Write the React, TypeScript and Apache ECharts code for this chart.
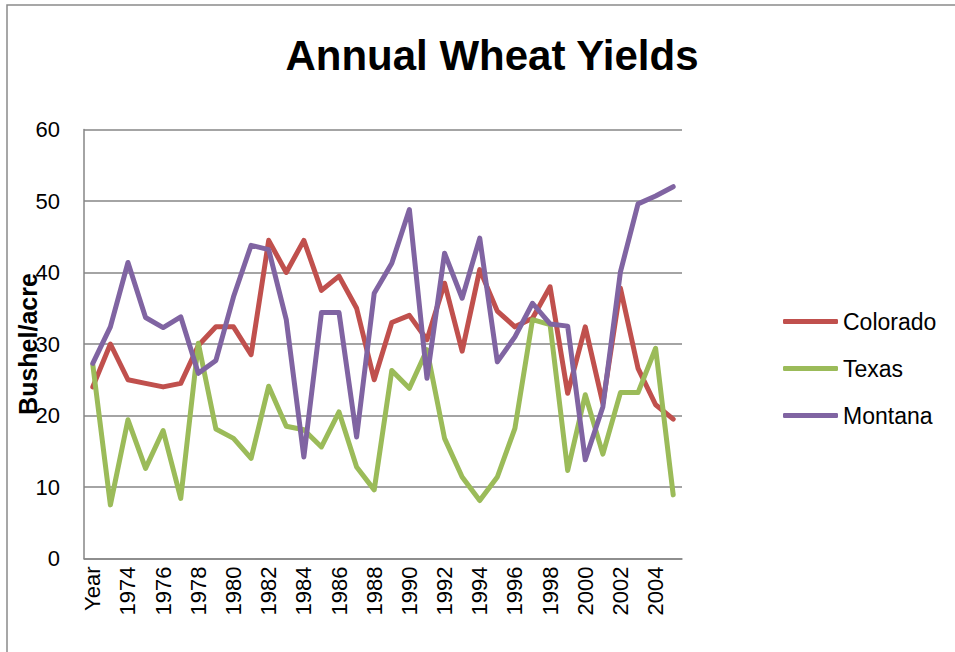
import React, { useEffect, useRef } from "react";
import * as echarts from "echarts";

const categories = [
  "Year", "1973", "1974", "1975", "1976", "1977", "1978", "1979", "1980", "1981",
  "1982", "1983", "1984", "1985", "1986", "1987", "1988", "1989", "1990", "1991",
  "1992", "1993", "1994", "1995", "1996", "1997", "1998", "1999", "2000", "2001",
  "2002", "2003", "2004", "2005",
];

const colorado = [
  24.0, 30.0, 25.0, 24.5, 24.0, 24.5, 29.8, 32.4, 32.4, 28.5,
  44.5, 40.0, 44.5, 37.5, 39.5, 35.0, 25.0, 33.0, 34.0, 30.6,
  38.5, 29.0, 40.4, 34.6, 32.4, 33.6, 38.0, 23.1, 32.4, 21.7,
  37.8, 26.6, 21.5, 19.5,
];

const texas = [
  27.1, 7.5, 19.4, 12.6, 17.9, 8.4, 30.1, 18.1, 16.8, 14.0,
  24.1, 18.5, 18.0, 15.6, 20.5, 12.8, 9.6, 26.3, 23.8, 29.2,
  16.8, 11.4, 8.1, 11.4, 18.2, 33.4, 32.7, 12.3, 22.9, 14.6,
  23.2, 23.2, 29.4, 8.9,
];

const montana = [
  27.3, 32.4, 41.4, 33.7, 32.3, 33.8, 25.9, 27.7, 36.6, 43.8,
  43.2, 33.4, 14.2, 34.4, 34.4, 17.0, 37.1, 41.3, 48.8, 25.2,
  42.7, 36.4, 44.8, 27.5, 31.0, 35.7, 32.8, 32.5, 13.8, 21.2,
  40.1, 49.6, 50.7, 52.0,
];

const seriesNames = ["Colorado", "Texas", "Montana"];
const seriesColors = ["#C0504D", "#9BBB59", "#8064A2"];

const FONT = "Liberation Sans";

export default function App() {
  const ref = useRef<HTMLDivElement>(null);

  useEffect(() => {
    if (!ref.current) return;
    const chart = echarts.init(ref.current, null, { renderer: "svg" });
    const data = [colorado, texas, montana];
    chart.setOption({
      animation: false,
      backgroundColor: "#ffffff",
      textStyle: { fontFamily: FONT },
      title: {
        text: "Annual Wheat Yields",
        left: 487,
        top: 29,
        textAlign: "center",
        textStyle: { fontFamily: FONT, fontSize: 42, fontWeight: "bold", color: "#000" },
      },
      graphic: [
        {
          type: "rect",
          shape: { x: 7, y: 5, width: 1000, height: 700 },
          style: { fill: "none", stroke: "#8a8a8a", lineWidth: 1.5 },
          silent: true,
        },
      ],
      legend: {
        orient: "vertical",
        left: 778,
        top: 305,
        itemWidth: 55,
        itemHeight: 5,
        itemGap: 24,
        icon: "roundRect",
        textStyle: { fontFamily: FONT, fontSize: 23, color: "#000" },
        data: seriesNames,
      },
      grid: {
        left: 84,
        right: 273,
        top: 129.5,
        bottom: 93.5,
        containLabel: false,
        outerBoundsMode: "none",
      },
      xAxis: {
        type: "category",
        data: categories,
        boundaryGap: true,
        axisLine: { show: true, lineStyle: { color: "#868686", width: 1.5 } },
        axisTick: { show: false },
        axisLabel: {
          interval: 1,
          rotate: 90,
          margin: 8,
          fontFamily: FONT,
          fontSize: 22,
          color: "#000",
        },
      },
      yAxis: {
        type: "value",
        min: 0,
        max: 60,
        interval: 10,
        name: "Bushel/acre",
        nameLocation: "middle",
        nameRotate: 90,
        nameGap: 44,
        nameMoveOverlap: false,
        nameTextStyle: { fontFamily: FONT, fontSize: 25, fontWeight: "bold", color: "#000" },
        axisLine: { show: true, lineStyle: { color: "#868686", width: 1.5 } },
        axisTick: { show: false },
        splitLine: { show: true, lineStyle: { color: "#868686", width: 1.5 } },
        axisLabel: { margin: 24, fontFamily: FONT, fontSize: 22, color: "#000" },
      },
      series: seriesNames.map((name, i) => ({
        name,
        type: "line",
        data: data[i],
        showSymbol: false,
        symbol: "none",
        lineStyle: { color: seriesColors[i], width: 5, cap: "round", join: "round" },
        itemStyle: { color: seriesColors[i] },
      })),
    });
    return () => chart.dispose();
  }, []);

  return (
    <div
      ref={ref}
      style={{ position: "fixed", left: 0, top: 0, width: 955, height: 652 }}
    />
  );
}
